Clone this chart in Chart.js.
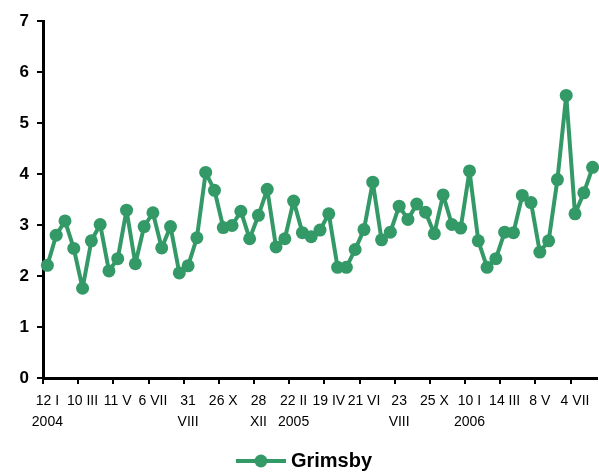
<!DOCTYPE html>
<html>
<head>
<meta charset="utf-8">
<script src="https://cdn.jsdelivr.net/npm/chart.js@4.4.1/dist/chart.umd.min.js"></script>
<style>
  html, body { margin: 0; padding: 0; background: #fff; overflow: hidden; }
  canvas { display: block; }
</style>
</head>
<body>
<canvas id="grimsbyChart" width="599" height="472"></canvas>
<script>
const seriesName = 'Grimsby';
// one value per sampling date
const values = [
	2.21, 2.80, 3.08, 2.54, 1.76, 2.69, 3.01, 2.10, 2.34, 3.29,
	2.24, 2.97, 3.24, 2.55, 2.97, 2.06, 2.20, 2.75, 4.03, 3.68,
	2.95, 2.99, 3.27, 2.73, 3.19, 3.70, 2.57, 2.73, 3.47, 2.85,
	2.77, 2.90, 3.22, 2.17, 2.17, 2.52, 2.91, 3.84, 2.71, 2.86,
	3.37, 3.11, 3.41, 3.25, 2.83, 3.59, 3.01, 2.94, 4.06, 2.69,
	2.17, 2.34, 2.86, 2.85, 3.58, 3.44, 2.47, 2.69, 3.89, 5.54,
	3.22, 3.63, 4.13
];
// date labels, one for every 4th sample
const tickLabels = [
	['12 I', '2004'], '10 III', '11 V', '6 VII', ['31', 'VIII'], '26 X', ['28', 'XII'],
	['22 II', '2005'], '19 IV', '21 VI', ['23', 'VIII'], '25 X', ['10 I', '2006'],
	'14 III', '8 V', '4 VII'
];
const labelEvery = 4;
const yMin = 0;
const yMax = 7;

const green = '#339966';
const fontFamily = '"Liberation Sans", Arial, sans-serif';

// legend icon: line with a marker in the middle (left part left blank on purpose)
const legendIcon = document.createElement('canvas');
legendIcon.width = 66;
legendIcon.height = 14;
(function () {
	const c = legendIcon.getContext('2d');
	c.strokeStyle = green;
	c.lineWidth = 4;
	c.beginPath();
	c.moveTo(16, 7);
	c.lineTo(66, 7);
	c.stroke();
	c.fillStyle = green;
	c.beginPath();
	c.arc(41, 7, 6.5, 0, Math.PI * 2);
	c.fill();
})();

const ctx = document.getElementById('grimsbyChart');
const chart = new Chart(ctx, {
	type: 'line',
	data: {
		datasets: [{
			label: seriesName,
			data: values.map((v, i) => ({ x: i, y: v })),
			borderColor: green,
			backgroundColor: green,
			borderWidth: 4,
			borderJoinStyle: 'round',
			pointRadius: 6.5,
			pointBorderWidth: 0,
			pointBackgroundColor: green,
			tension: 0,
			clip: 8
		}]
	},
	options: {
		responsive: false,
		animation: false,
		layout: { autoPadding: false, padding: { top: 21, right: 2, left: 0, bottom: -9 } },
		plugins: {
			tooltip: { enabled: false },
			legend: {
				position: 'bottom',
				labels: {
					usePointStyle: true,
					pointStyle: legendIcon,
					pointStyleWidth: 56,
					color: '#000',
					padding: 0,
					font: { family: fontFamily, size: 20, weight: 'bold' }
				}
			}
		},
		scales: {
			x: {
				type: 'linear',
				min: -0.5,
				max: values.length - 0.5,
				// tick marks sit between samples, labels under the sample itself
				afterBuildTicks: s => {
					s.ticks = tickLabels.map((_, k) => ({ value: -0.5 + k * labelEvery }));
				},
				afterFit: s => {
					s.height = 73;
					s.paddingLeft = 0;
					s.paddingRight = 0;
				},
				ticks: {
					autoSkip: false,
					maxRotation: 0,
					minRotation: 0,
					padding: 7,
					labelOffset: 4.4,
					color: '#000',
					callback: (v, i) => tickLabels[i],
					font: { family: fontFamily, size: 14, lineHeight: 1.5 }
				},
				grid: { drawOnChartArea: false, drawTicks: true, tickLength: 6, color: '#000', lineWidth: 2 },
				border: { color: '#000', width: 3 }
			},
			y: {
				min: yMin,
				max: yMax,
				afterFit: s => { s.width = 43; },
				ticks: {
					stepSize: 1,
					padding: 8,
					color: '#000',
					font: { family: fontFamily, size: 17, weight: 'bold' }
				},
				grid: { drawOnChartArea: false, drawTicks: true, tickLength: 6, color: '#000', lineWidth: 2 },
				border: { color: '#000', width: 3 }
			}
		}
	}
});
</script>
</body>
</html>
